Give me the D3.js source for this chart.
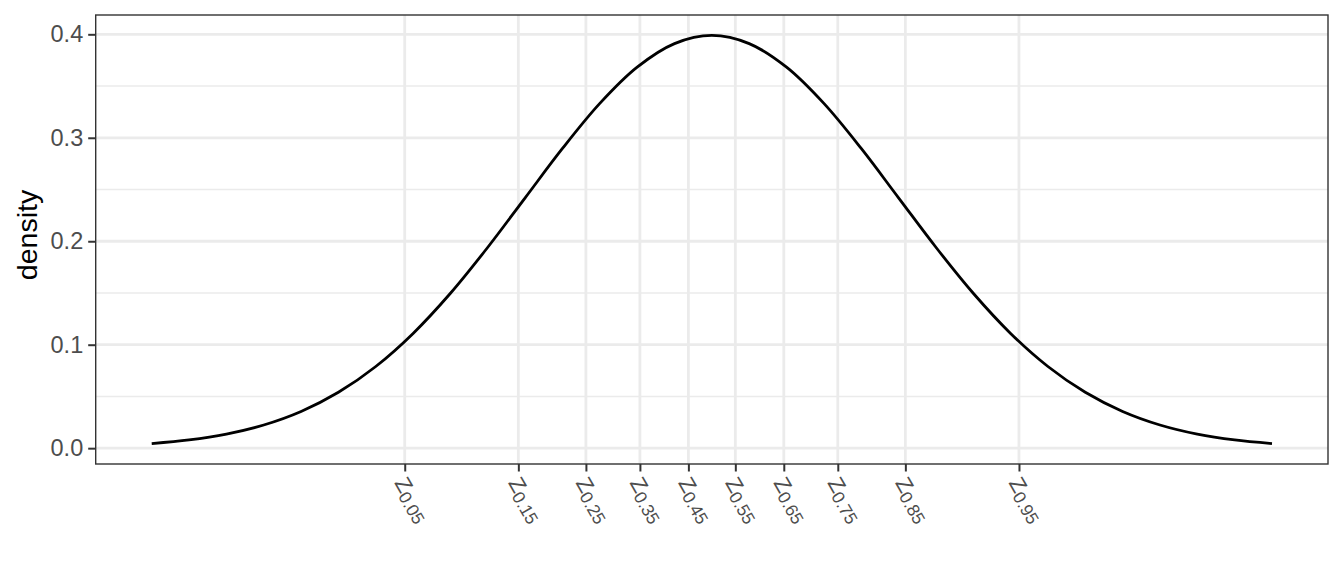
<!DOCTYPE html>
<html>
<head>
<meta charset="utf-8">
<script src="https://cdn.jsdelivr.net/npm/d3@7"></script>
<style>
  html, body { margin: 0; padding: 0; background: #fff; }
  svg { display: block; font-family: "Liberation Sans", Arial, Helvetica, sans-serif; }
</style>
</head>
<body>
<svg id="chart" width="1344" height="576"></svg>
<script>
// Curve samples (z, density)
const zValues = [-3.0,-2.8,-2.6,-2.4,-2.2,-2.0,-1.8,-1.6,-1.4,-1.2,-1.0,-0.8,-0.6,-0.4,-0.2,0.0,
                 0.2,0.4,0.6,0.8,1.0,1.2,1.4,1.6,1.8,2.0,2.2,2.4,2.6,2.8,3.0];
const densityValues = [0.00443,0.00792,0.01358,0.02239,0.03547,0.05399,0.07895,0.11092,0.14973,0.19419,
                       0.24197,0.28969,0.33322,0.36827,0.39104,0.39894,0.39104,0.36827,0.33322,0.28969,
                       0.24197,0.19419,0.14973,0.11092,0.07895,0.05399,0.03547,0.02239,0.01358,0.00792,0.00443];
// X axis breaks (quantiles) and their labels
const xBreaks = [-1.6449,-1.0364,-0.6745,-0.3853,-0.1257,0.1257,0.3853,0.6745,1.0364,1.6449];
const xBreakSubs = ["0.05","0.15","0.25","0.35","0.45","0.55","0.65","0.75","0.85","0.95"];
const yBreaks = [0.0,0.1,0.2,0.3,0.4];
const yMinorBreaks = [0.05,0.15,0.25,0.35];
const yTitle = "density";

const svg = d3.select("#chart");
const panel = {left: 95.7, right: 1328, top: 15, bottom: 464};

const xExt = d3.extent(zValues), xPad = (xExt[1]-xExt[0])*0.05;
const yExt = d3.extent(densityValues), yPad = (yExt[1]-yExt[0])*0.05;
const x = d3.scaleLinear().domain([xExt[0]-xPad, xExt[1]+xPad]).range([panel.left, panel.right]);
const y = d3.scaleLinear().domain([yExt[0]-yPad, yExt[1]+yPad]).range([panel.bottom, panel.top]);

const g = svg.append("g");

g.selectAll(".ymin").data(yMinorBreaks).join("line")
  .attr("x1", panel.left).attr("x2", panel.right)
  .attr("y1", d => y(d)).attr("y2", d => y(d))
  .attr("stroke", "#ebebeb").attr("stroke-width", 1.4);
g.selectAll(".ymaj").data(yBreaks).join("line")
  .attr("x1", panel.left).attr("x2", panel.right)
  .attr("y1", d => y(d)).attr("y2", d => y(d))
  .attr("stroke", "#ebebeb").attr("stroke-width", 2.8);
g.selectAll(".xmaj").data(xBreaks).join("line")
  .attr("y1", panel.top).attr("y2", panel.bottom)
  .attr("x1", d => x(d)).attr("x2", d => x(d))
  .attr("stroke", "#ebebeb").attr("stroke-width", 2.8);

const pts = zValues.map((z, i) => [z, densityValues[i]]);
g.append("path").datum(pts)
  .attr("fill", "none").attr("stroke", "#000").attr("stroke-width", 2.8)
  .attr("d", d3.line().x(d => x(d[0])).y(d => y(d[1])).curve(d3.curveCatmullRom.alpha(0.5)));

g.append("rect")
  .attr("x", panel.left).attr("y", panel.top)
  .attr("width", panel.right - panel.left).attr("height", panel.bottom - panel.top)
  .attr("fill", "none").attr("stroke", "#333333").attr("stroke-width", 1.4);

const yAxis = d3.axisLeft(y).tickValues(yBreaks).tickFormat(d3.format(".1f")).tickSize(7.5).tickPadding(5);
const ya = svg.append("g").attr("transform", `translate(${panel.left},0)`).call(yAxis);
ya.select(".domain").remove();
ya.selectAll(".tick line").attr("stroke", "#333333").attr("stroke-width", 2);
ya.selectAll(".tick text").attr("fill", "#4d4d4d").style("font-size", "23.5px")
  .attr("font-family", "Liberation Sans, Arial, sans-serif");

const xAxis = d3.axisBottom(x).tickValues(xBreaks).tickFormat("").tickSize(7.5);
const xa = svg.append("g").attr("transform", `translate(0,${panel.bottom})`).call(xAxis);
xa.select(".domain").remove();
xa.selectAll(".tick line").attr("stroke", "#333333").attr("stroke-width", 2);
xa.selectAll(".tick text").remove();

const lab = svg.append("g").selectAll("text").data(xBreaks).join("text")
  .attr("transform", d => `translate(${x(d) - 4},${479}) rotate(60)`)
  .attr("fill", "#4d4d4d").attr("text-anchor", "start")
  .style("font-size", "22px").attr("dy", "0.35em");
lab.append("tspan").text("Z");
lab.append("tspan").attr("dy", "0.2em").style("font-size", "17.5px").text((d, i) => xBreakSubs[i]);

svg.append("text")
  .attr("transform", `translate(37,235) rotate(-90)`)
  .attr("text-anchor", "middle").attr("fill", "#000").style("font-size", "28.5px")
  .text(yTitle);
</script>
</body>
</html>
